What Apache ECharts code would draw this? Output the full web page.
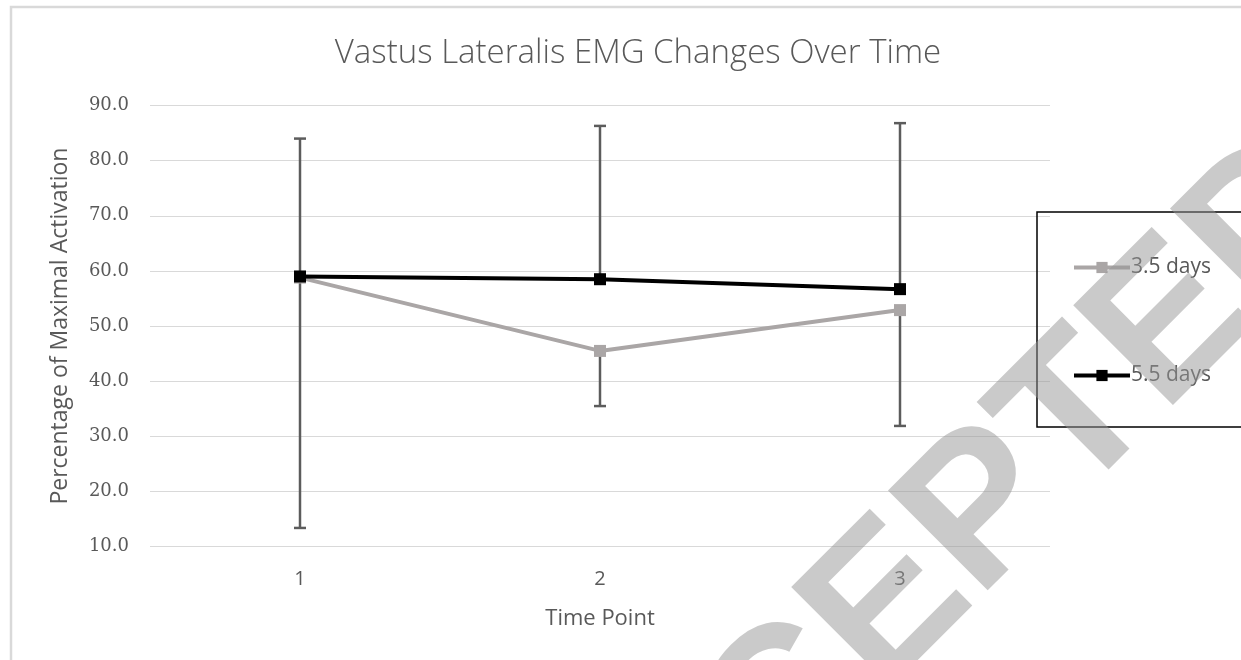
<!DOCTYPE html>
<html><head><meta charset="utf-8">
<script src="https://cdn.jsdelivr.net/npm/echarts@6.0.0/dist/echarts.min.js"></script>
<style>html,body{margin:0;padding:0;background:#fff}#c{width:1241px;height:660px}</style>
</head><body><div id="c"></div>
<script>
const titleText = 'Vastus Lateralis EMG Changes Over Time';
const categories = ['1', '2', '3'];
const seriesNames = ['3.5 days', '5.5 days'];
const days35 = [58.8, 45.5, 52.9];
const days55 = [59.0, 58.5, 56.7];
const days35Minus = [45.4, 10.0, 21.0];
const days55Plus = [25.0, 27.8, 30.1];
const yMin = 10, yMax = 90, yStep = 10;
const xTitle = 'Time Point';
const yTitle = 'Percentage of Maximal Activation';
const watermark = 'ACCEPTED';

const chart = echarts.init(document.getElementById('c'), null, {renderer: 'canvas'});
const labelColor = '#595959';
const sans = '"Open Sans", Lato, sans-serif';

function errRender(params, api) {
  const x = api.value(0);
  const p1 = api.coord([x, api.value(1)]);
  const p2 = api.coord([x, api.value(2)]);
  const hw = 6;
  const style = {stroke: '#5c5c5c', lineWidth: 2.5};
  return {type: 'group', children: [
    {type: 'line', shape: {x1: p1[0], y1: p1[1], x2: p2[0], y2: p2[1]}, style: style},
    {type: 'line', shape: {x1: p2[0] - hw, y1: p2[1], x2: p2[0] + hw, y2: p2[1]}, style: style}
  ]};
}

chart.setOption({
  animation: false,
  backgroundColor: '#fff',
  title: {
    text: titleText, left: 633, top: 32, textAlign: 'center',
    textStyle: {fontFamily: sans, fontSize: 33, fontWeight: 300, color: labelColor}
  },
  grid: {left: 150, right: 191, top: 105.5, bottom: 113.3},
  legend: {
    data: seriesNames, orient: 'vertical', left: 1072, top: 257, itemGap: 87, padding: 0,
    itemWidth: 56, itemHeight: 14,
    lineStyle: {width: 4},
    textStyle: {fontFamily: sans, fontSize: 21, color: labelColor, padding: [0, 0, 0, -4]}
  },
  xAxis: {
    type: 'category', data: categories, boundaryGap: true,
    axisLine: {show: false}, axisTick: {show: false},
    axisLabel: {fontFamily: sans, fontSize: 20, color: labelColor, margin: 23},
    name: xTitle, nameLocation: 'middle', nameGap: 61,
    nameTextStyle: {fontFamily: sans, fontSize: 22, color: labelColor}
  },
  yAxis: {
    type: 'value', min: yMin, max: yMax, interval: yStep,
    axisLine: {show: false}, axisTick: {show: false},
    splitLine: {lineStyle: {color: '#d9d9d9', width: 1}},
    axisLabel: {fontFamily: '"DejaVu Serif", serif', fontSize: 18, color: labelColor, margin: 21,
      formatter: v => v.toFixed(1)},
    name: yTitle, nameLocation: 'middle', nameGap: 78, nameRotate: 90,
    nameTextStyle: {fontFamily: sans, fontSize: 23, color: labelColor}
  },
  graphic: [
    {type: 'rect', shape: {x: 11, y: 7, width: 1400, height: 800}, style: {fill: 'none', stroke: '#d9d9d9', lineWidth: 2.5}, z: 100},
    {type: 'rect', shape: {x: 1037, y: 212, width: 400, height: 215}, style: {fill: 'none', stroke: '#000', lineWidth: 1.5}, z: 100},
    {type: 'text', x: 926, y: 572, rotation: Math.PI / 4,
      style: {text: watermark, font: 'bold 205px "Liberation Sans", Arial, sans-serif', fill: 'rgba(150,150,150,0.5)',
        textAlign: 'center', textVerticalAlign: 'middle'}, z: 200}
  ],
  series: [
    {type: 'custom', name: 'err35', renderItem: errRender, z: 1,
      encode: {x: 0, y: [1, 2]},
      data: days35.map((v, i) => [i, v, v - days35Minus[i]])},
    {type: 'custom', name: 'err55', renderItem: errRender, z: 1,
      encode: {x: 0, y: [1, 2]},
      data: days55.map((v, i) => [i, v, v + days55Plus[i]])},
    {type: 'line', name: seriesNames[0], data: days35, z: 3,
      symbol: 'rect', symbolSize: 12,
      lineStyle: {color: '#aaa6a6', width: 4}, itemStyle: {color: '#aaa6a6'}},
    {type: 'line', name: seriesNames[1], data: days55, z: 4,
      symbol: 'rect', symbolSize: 12,
      lineStyle: {color: '#000', width: 4}, itemStyle: {color: '#000'}}
  ]
});
</script></body></html>
